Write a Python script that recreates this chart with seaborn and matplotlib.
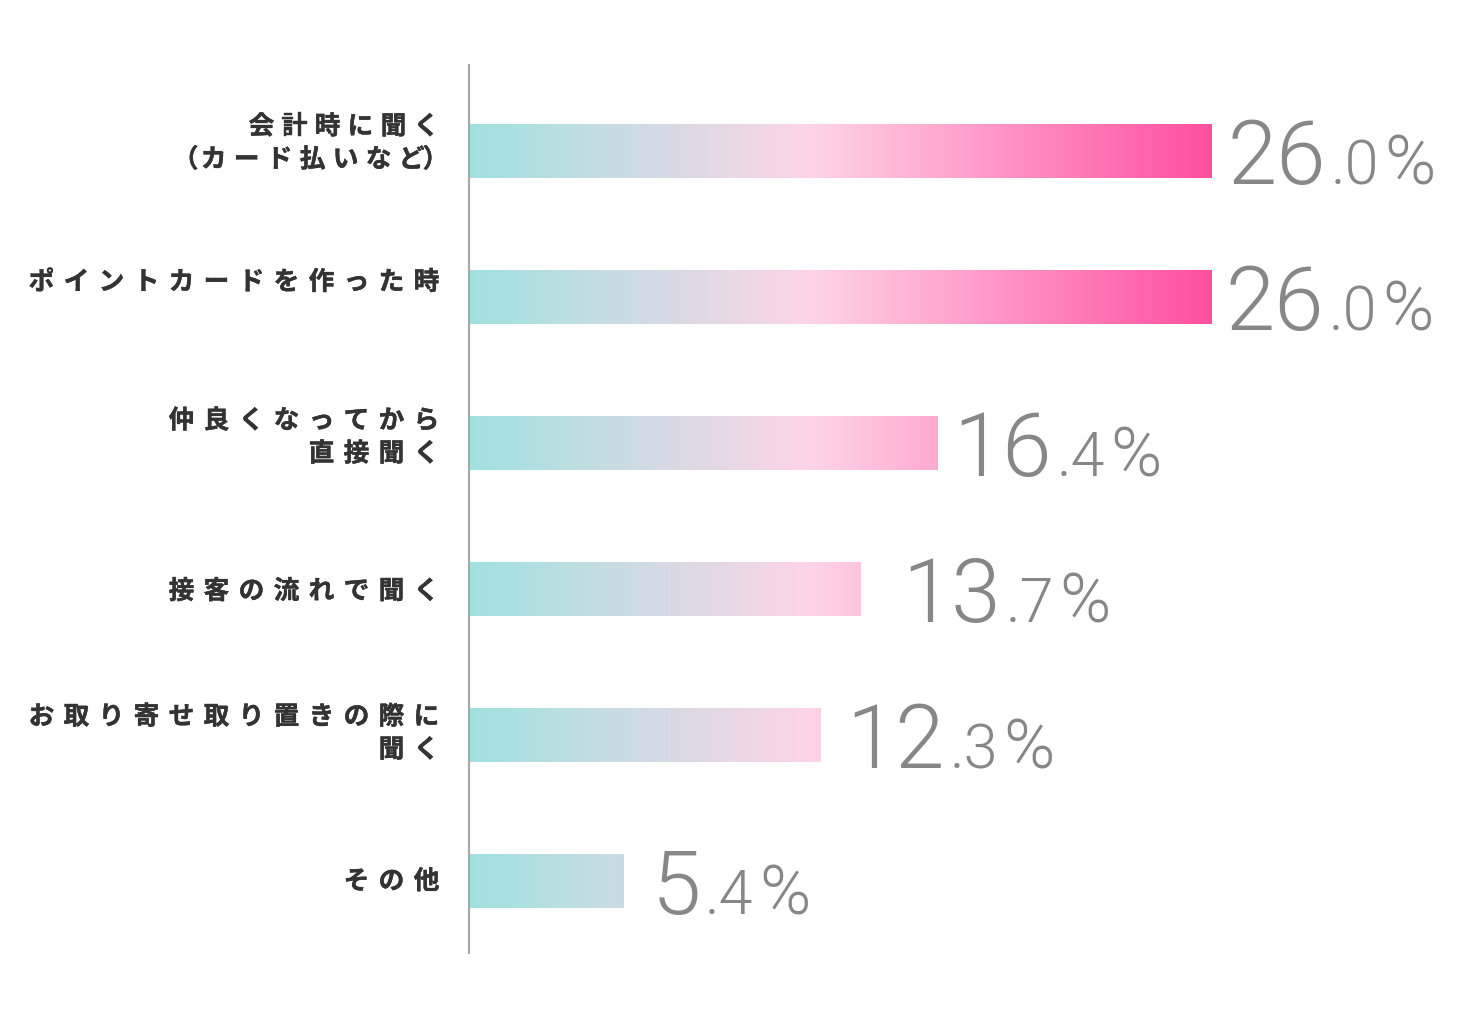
import numpy as np
import matplotlib.pyplot as plt
import matplotlib.patheffects as pe
import seaborn as sns
from matplotlib.colors import LinearSegmentedColormap

# Data
labels = [
    "会計時に聞く\n（カード払いなど）",
    "ポイントカードを作った時",
    "仲良くなってから\n直接聞く",
    "接客の流れで聞く",
    "お取り寄せ取り置きの際に\n聞く",
    "その他",
]
values = [26.0, 26.0, 16.4, 13.7, 12.3, 5.4]

# Layout tweaks (pixels): label block shift, letter pitch, bar-to-value gap
label_dy = [-8, -15, -6, 2, -2, 0]
label_pitch = [33, 35, 35, 35, 35, 35]
value_gap = [16, 14, 16, 42, 26, 28]

PX = 0.72  # points per pixel at dpi 100
TEXT_COLOR = "#333333"
VALUE_COLOR = "#878787"
CJK = ["Noto Sans CJK JP", "DejaVu Sans"]
NUM = ["Roboto", "DejaVu Sans"]

sns.set_theme(style="white")
plt.rcParams["font.family"] = CJK

fig = plt.figure(figsize=(14.68, 10.14), dpi=100)
ax = fig.add_axes([469 / 1468, 61 / 1014, 999 / 1468, 888 / 1014])

sns.barplot(x=values, y=labels, orient="h", width=0.37, color="white",
            saturation=1, ax=ax)

XMAX = 999 / (743 / 26.0)
ax.set_xlim(0, XMAX)
ax.set_ylim(5.49, -0.59)

# gradient fixed in data space, clipped to each bar
cmap = LinearSegmentedColormap.from_list(
    "teal_pink", [(0.0, "#A0E2DF"), (0.46, "#FFD4E8"), (1.0, "#FF4FA0")])
grad = np.linspace(0, 1, 512).reshape(1, -1)
for bar in ax.patches:
    bar.set_edgecolor("none")
    im = ax.imshow(grad, extent=[0, max(values), 5.49, -0.59], aspect="auto",
                   cmap=cmap, interpolation="bicubic", zorder=2)
    im.set_clip_path(bar)

ax.set_xlim(0, XMAX)
ax.set_ylim(5.49, -0.59)

for s in ["top", "right", "bottom"]:
    ax.spines[s].set_visible(False)
ax.spines["left"].set_color("#A8A8A8")
ax.spines["left"].set_linewidth(1.5)
ax.set_xticks([])
ax.set_yticks([])
ax.set_xlabel("")
ax.set_ylabel("")

# category labels with wide letter spacing, right aligned to the axis
EM = 25
LINE = 33
RIGHT = -30
bold = [pe.withStroke(linewidth=0.3, foreground=TEXT_COLOR)]
for i, text in enumerate(labels):
    lines = text.split("\n")
    n = len(lines)
    pitch = label_pitch[i]
    for li, line in enumerate(lines):
        off_y = label_dy[i] + (li - (n - 1) / 2) * LINE
        x = RIGHT
        for ch in reversed(line):
            # fullwidth brackets take less room, as in the reference
            step = pitch * 0.45 if ch in "（）" else pitch
            if ch == "）":
                cx = x - EM / 2 + 9
            elif ch == "（":
                cx = x - EM / 2 + 5
            else:
                cx = x - EM / 2
            ax.annotate(ch, xy=(0, i), xycoords=("axes fraction", "data"),
                        xytext=(cx * PX, -off_y * PX),
                        textcoords="offset points", ha="center", va="center",
                        fontsize=18.5, fontweight="bold", color=TEXT_COLOR,
                        family=CJK, path_effects=bold)
            x -= step

# value labels: big integer part, smaller decimal part and percent sign
for i, v in enumerate(values):
    whole, dec = f"{v:.1f}".split(".")
    t1 = ax.annotate(whole, xy=(v, i + 0.225), xytext=(value_gap[i] * PX, 0),
                     textcoords="offset points", ha="left", va="baseline",
                     fontsize=64, fontweight=300, color=VALUE_COLOR,
                     family=NUM)
    t2 = ax.annotate("." + dec, xy=(1, i + 0.225), xycoords=(t1, "data"),
                     xytext=(3, 0), textcoords="offset points", ha="left",
                     va="baseline", fontsize=44, fontweight=300,
                     color=VALUE_COLOR, family=NUM)
    ax.annotate("%", xy=(1, i + 0.225), xycoords=(t2, "data"),
                xytext=(4, 0), textcoords="offset points", ha="left",
                va="baseline", fontsize=50, fontweight=300,
                color=VALUE_COLOR, family=NUM)

plt.savefig("out.png", dpi=100, facecolor="white")
